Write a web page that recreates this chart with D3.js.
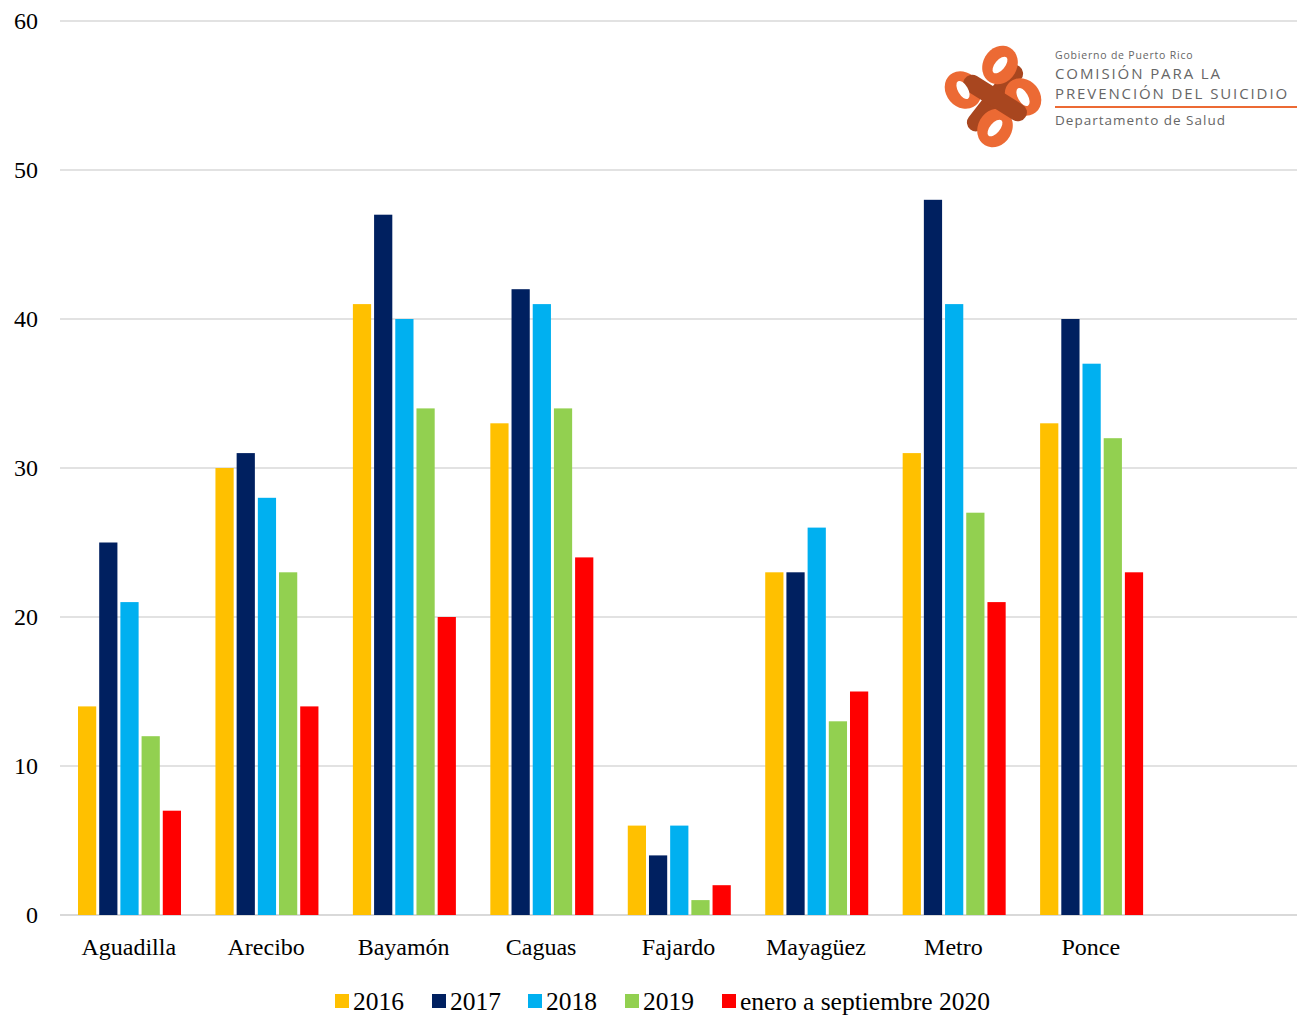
<!DOCTYPE html>
<html>
<head>
<meta charset="utf-8">
<script src="https://cdn.jsdelivr.net/npm/d3@7"></script>
<style>
  body { margin: 0; background: #fff; }
  svg { display: block; }
  .tick text { font-family: "Liberation Serif", serif; fill: #000; }
</style>
</head>
<body>
<svg id="chart" width="1300" height="1017"></svg>
<script>
const regions = ["Aguadilla", "Arecibo", "Bayamón", "Caguas", "Fajardo", "Mayagüez", "Metro", "Ponce", ""];
const seriesNames = ["2016", "2017", "2018", "2019", "enero a septiembre 2020"];
const seriesColors = ["#FFC000", "#002060", "#00B0F0", "#92D050", "#FF0000"];
const v2016 = [14, 30, 41, 33, 6, 23, 31, 33];
const v2017 = [25, 31, 47, 42, 4, 23, 48, 40];
const v2018 = [21, 28, 40, 41, 6, 26, 41, 37];
const v2019 = [12, 23, 34, 34, 1, 13, 27, 32];
const v2020 = [7, 14, 20, 24, 2, 15, 21, 23];
const yTicks = [0, 10, 20, 30, 40, 50, 60];

const series = [v2016, v2017, v2018, v2019, v2020];
const svg = d3.select("#chart");
const plotL = 60, plotR = 1297, plotT = 21, plotB = 915;

const x = d3.scaleBand().domain(regions).range([plotL, plotR]);
const inner = d3.scaleBand().domain(d3.range(5)).range([18, 18 + 103]).paddingInner(0.14);
const y = d3.scaleLinear().domain([0, 60]).range([plotB, plotT]);

// grid
svg.append("g")
  .selectAll("line").data(yTicks).join("line")
  .attr("x1", plotL).attr("x2", plotR)
  .attr("y1", d => y(d)).attr("y2", d => y(d))
  .attr("stroke", "#d9d9d9").attr("stroke-width", d => d === 0 ? 2 : 1.3);

// y axis labels
const yAxis = svg.append("g").attr("transform", `translate(${plotL - 22},0)`)
  .call(d3.axisLeft(y).tickValues(yTicks).tickSize(0).tickPadding(0));
yAxis.select(".domain").remove();
yAxis.selectAll("text").attr("font-size", 24).attr("dy", "0.32em");

// bars
const groups = svg.append("g").selectAll("g")
  .data(regions.slice(0, 8)).join("g")
  .attr("transform", d => `translate(${x(d)},0)`);
groups.selectAll("rect")
  .data((d, i) => series.map((s, k) => ({k, v: s[i]})))
  .join("rect")
  .attr("x", d => inner(d.k))
  .attr("width", inner.bandwidth())
  .attr("y", d => y(d.v))
  .attr("height", d => y(0) - y(d.v))
  .attr("fill", d => seriesColors[d.k]);

// x axis labels
const xAxis = svg.append("g").attr("transform", `translate(0,${plotB})`)
  .call(d3.axisBottom(x).tickSize(0).tickPadding(23));
xAxis.select(".domain").remove();
xAxis.selectAll("text").attr("font-size", 24).attr("dy", "0.71em");

// legend
const legendX = [335, 432, 528, 625, 722];
const legend = svg.append("g").selectAll("g").data(seriesNames).join("g")
  .attr("transform", (d, i) => `translate(${legendX[i]},994)`);
legend.append("rect").attr("width", 14).attr("height", 14)
  .attr("fill", (d, i) => seriesColors[i]);
legend.append("text").attr("x", 18).attr("y", 16)
  .attr("font-family", "Liberation Serif, serif").attr("font-size", 25.5)
  .text(d => d);

// logo
const logo = svg.append("g").attr("transform", "translate(995,98)");
const orange = "#EC6A34", brown = "#A8461F";
const lobes = [[5, -33, 30], [-32, -8, -40], [28, -1, -40], [0, 30, 30]];
logo.append("rect").attr("x", -9).attr("y", -40).attr("width", 18).attr("height", 80)
  .attr("rx", 9).attr("fill", brown).attr("transform", "rotate(38)");
lobes.forEach(([cx, cy, a]) => {
  logo.append("ellipse").attr("cx", cx).attr("cy", cy).attr("rx", 17).attr("ry", 20)
    .attr("transform", `rotate(${a},${cx},${cy})`).attr("fill", orange);
});
logo.append("rect").attr("x", -9).attr("y", -36).attr("width", 18).attr("height", 72)
  .attr("rx", 9).attr("fill", brown).attr("transform", "rotate(-58)");
lobes.forEach(([cx, cy, a]) => {
  logo.append("ellipse").attr("cx", cx).attr("cy", cy).attr("rx", 5).attr("ry", 10)
    .attr("transform", `rotate(${a + 10},${cx},${cy})`).attr("fill", "#fff");
});

const lt = svg.append("g").attr("font-family", "Open Sans, sans-serif").attr("fill", "#666");
lt.append("text").attr("x", 1055).attr("y", 59).attr("font-size", 10.5).attr("letter-spacing", 0.8).text("Gobierno de Puerto Rico");
lt.append("text").attr("x", 1055).attr("y", 79).attr("font-size", 15).attr("letter-spacing", 1.9).text("COMISIÓN PARA LA");
lt.append("text").attr("x", 1055).attr("y", 99).attr("font-size", 15).attr("letter-spacing", 1.9).text("PREVENCIÓN DEL SUICIDIO");
svg.append("line").attr("x1", 1055).attr("x2", 1297).attr("y1", 107).attr("y2", 107)
  .attr("stroke", orange).attr("stroke-width", 2);
lt.append("text").attr("x", 1055).attr("y", 125).attr("font-size", 13.5).attr("letter-spacing", 1).text("Departamento de Salud");
</script>
</body>
</html>
